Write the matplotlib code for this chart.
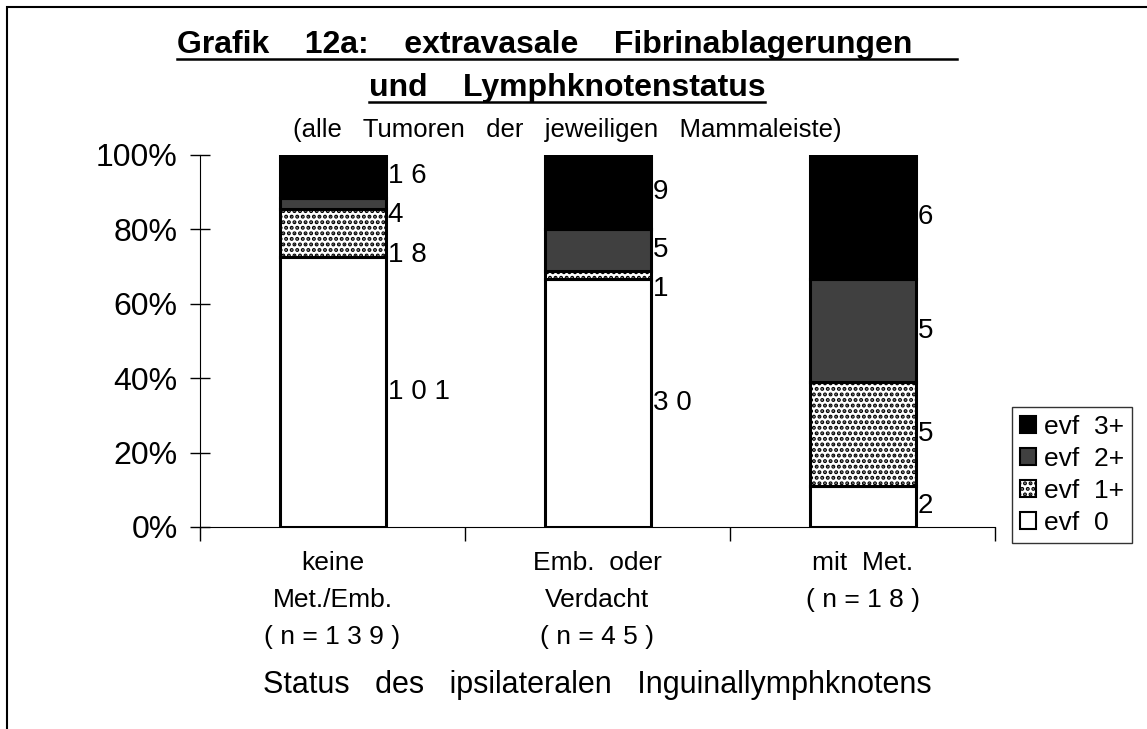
import numpy as np
import matplotlib.pyplot as plt
from matplotlib.patches import Rectangle
from matplotlib.lines import Line2D

plt.rcParams['font.family'] = ['Liberation Sans', 'DejaVu Sans']
plt.rcParams['hatch.linewidth'] = 2.0

# daten aus der grafik (anzahl tumoren)
categories = ["keine\nMet./Emb.\n( n = 1 3 9 )",
              "Emb.  oder\nVerdacht\n( n = 4 5 )",
              "mit  Met.\n( n = 1 8 )"]
evf_0 = [101, 30, 2]
evf_1 = [18, 1, 5]
evf_2 = [4, 5, 5]
evf_3 = [16, 9, 6]
series_names = ["evf  0", "evf  1+", "evf  2+", "evf  3+"]
y_ticks = [0, 20, 40, 60, 80, 100]

counts = np.array([evf_0, evf_1, evf_2, evf_3], dtype=float)
pct = counts / counts.sum(axis=0) * 100

W, H = 1147, 729
fig = plt.figure(figsize=(W / 100, H / 100), dpi=100)
ax = fig.add_axes([200 / W, 1 - 527 / H, 795 / W, 372 / H])

faces = ["white", "white", "#404040", "black"]
hatches = [None, "...", None, None]
x = np.arange(len(categories))
bar_w = 0.4
bottom = np.zeros(len(categories))
handles = []
for k in range(4):
    ax.bar(x, pct[k], bar_w, bottom=bottom, color=faces[k], hatch=hatches[k],
           edgecolor="black", linewidth=2.2)
    handles.append(Rectangle((0, 0), 1, 1, facecolor=faces[k], hatch=hatches[k],
                             edgecolor="black", linewidth=1.5))
    bottom += pct[k]

# zahlen rechts neben den balken, von oben nach unten entzerrt
for i in range(len(categories)):
    tops = np.cumsum(pct[:, i])
    mids = tops - pct[:, i] / 2
    last = None
    for k in [3, 2, 1, 0]:
        y = mids[k]
        if last is not None and last - y < 10.5:
            y = last - 10.5
        last = y
        ax.text(x[i] + bar_w / 2 + 0.008, y, " ".join(str(int(counts[k, i]))),
                ha="left", va="center", fontsize=20)

ax.set_xlim(-0.5, 2.5)
ax.set_ylim(0, 100)
ax.set_yticks(y_ticks)
ax.set_yticklabels([f"{t}%" for t in y_ticks], fontsize=23)
ax.tick_params(axis="y", direction="inout", length=14, width=1, pad=9)
ax.set_xticks([-0.5, 0.5, 1.5, 2.5])
ax.set_xticklabels([])
ax.set_xticks(x, minor=True)
ax.set_xticklabels(categories, minor=True, fontsize=19, linespacing=1.7)
ax.tick_params(axis="x", which="major", direction="out", length=10, width=1)
ax.tick_params(axis="x", which="minor", length=0, pad=17)
for s in ["top", "right"]:
    ax.spines[s].set_visible(False)
ax.set_xlabel("Status   des   ipsilateralen   Inguinallymphknotens", fontsize=22, labelpad=15)

leg = ax.legend(handles[::-1], series_names[::-1], loc="upper right",
                bbox_to_anchor=(1132 / W, 1 - 407 / H), bbox_transform=fig.transFigure,
                borderaxespad=0, fontsize=19, handlelength=0.6, handleheight=0.6,
                handletextpad=0.3, labelspacing=0.3, borderpad=0.3, fancybox=False)
leg.get_frame().set_edgecolor("black")
leg.get_frame().set_linewidth(1)

# titel mit unterstreichung
title_font = ['Liberation Sans', 'DejaVu Sans']
t1 = fig.text(567 / W, 1 - 45 / H, "Grafik    12a:    extravasale    Fibrinablagerungen     ",
              ha="center", va="center", fontsize=23, fontweight="bold", family=title_font)
t2 = fig.text(567 / W, 1 - 88 / H, "und    Lymphknotenstatus",
              ha="center", va="center", fontsize=23, fontweight="bold", family=title_font)
fig.text(567 / W, 1 - 130 / H, "(alle   Tumoren   der   jeweiligen   Mammaleiste)",
         ha="center", va="center", fontsize=18.5)

fig.canvas.draw()
for t in (t1, t2):
    bb = t.get_window_extent().transformed(fig.transFigure.inverted())
    fig.add_artist(Line2D([bb.x0, bb.x1], [bb.y0 + 0.002, bb.y0 + 0.002],
                          color="black", linewidth=1.8, transform=fig.transFigure))

# rahmen der zeichenflaeche (nur oben und links sichtbar)
fig.add_artist(Rectangle((7 / W, -0.1), 1.2, 1.1 - 7 / H, fill=False,
                         edgecolor="black", linewidth=1.5, transform=fig.transFigure))

fig.savefig("out.png", dpi=100)
